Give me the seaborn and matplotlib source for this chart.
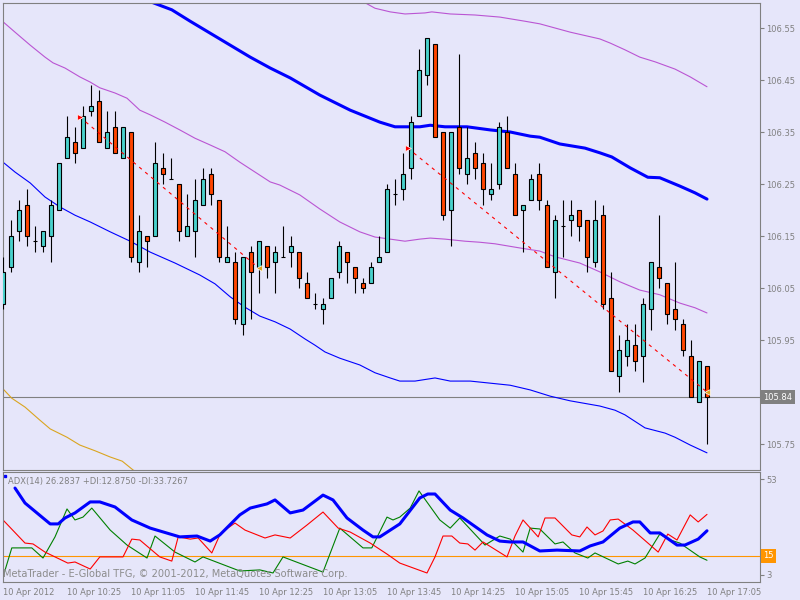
import matplotlib
matplotlib.use("Agg")
import matplotlib.pyplot as plt
import matplotlib.transforms as mtransforms
import seaborn as sns

# EURJPY M5, 10 Apr 2012, bars from 09:45 to 17:05
opens = [106.02, 106.09, 106.16, 106.21, 106.14, 106.13, 106.15, 106.20, 106.30, 106.33,
         106.32, 106.39, 106.41, 106.32, 106.36, 106.30, 106.35, 106.10, 106.15, 106.15,
         106.28, 106.26, 106.25, 106.15, 106.16, 106.21, 106.27, 106.22, 106.10, 106.10,
         105.98, 106.12, 106.09, 106.13, 106.10, 106.11, 106.12, 106.12, 106.06, 106.02,
         106.01, 106.03, 106.08, 106.12, 106.09, 106.06, 106.06, 106.10, 106.12, 106.23,
         106.24, 106.28, 106.38, 106.46, 106.52, 106.35, 106.20, 106.36, 106.27, 106.31,
         106.29, 106.23, 106.25, 106.35, 106.27, 106.20, 106.22, 106.27, 106.21, 106.08,
         106.17, 106.18, 106.20, 106.18, 106.10, 106.19, 106.03, 105.88, 105.92, 105.94,
         105.92, 106.01, 106.09, 106.06, 106.01, 105.98, 105.92, 105.83, 105.90]
highs = [106.11, 106.18, 106.22, 106.24, 106.17, 106.16, 106.22, 106.29, 106.38, 106.36,
         106.40, 106.44, 106.43, 106.39, 106.39, 106.36, 106.35, 106.19, 106.15, 106.33,
         106.31, 106.30, 106.25, 106.23, 106.26, 106.28, 106.28, 106.22, 106.17, 106.12,
         106.11, 106.13, 106.14, 106.13, 106.13, 106.17, 106.15, 106.12, 106.08, 106.04,
         106.03, 106.07, 106.14, 106.12, 106.09, 106.07, 106.10, 106.15, 106.25, 106.26,
         106.31, 106.38, 106.51, 106.53, 106.52, 106.35, 106.35, 106.50, 106.36, 106.33,
         106.31, 106.29, 106.37, 106.38, 106.29, 106.21, 106.27, 106.29, 106.22, 106.19,
         106.22, 106.22, 106.20, 106.18, 106.22, 106.21, 106.08, 105.96, 105.98, 105.98,
         106.03, 106.10, 106.19, 106.06, 106.10, 105.99, 105.95, 105.91, 105.90]
lows = [106.01, 106.08, 106.14, 106.13, 106.12, 106.12, 106.10, 106.20, 106.30, 106.29,
        106.32, 106.38, 106.33, 106.32, 106.31, 106.30, 106.10, 106.08, 106.09, 106.15,
        106.25, 106.26, 106.14, 106.15, 106.11, 106.21, 106.21, 106.10, 106.10, 105.98,
        105.96, 105.99, 106.04, 106.07, 106.04, 106.11, 106.09, 106.05, 106.03, 106.01,
        105.98, 106.03, 106.07, 106.06, 106.04, 106.04, 106.06, 106.10, 106.12, 106.21,
        106.22, 106.26, 106.38, 106.44, 106.34, 106.18, 106.13, 106.27, 106.25, 106.26,
        106.21, 106.22, 106.24, 106.28, 106.19, 106.12, 106.22, 106.20, 106.09, 106.03,
        106.11, 106.15, 106.14, 106.08, 106.09, 106.01, 105.89, 105.85, 105.90, 105.89,
        105.87, 105.97, 106.05, 105.98, 105.97, 105.92, 105.84, 105.83, 105.75]
closes = [106.08, 106.15, 106.20, 106.15, 106.14, 106.16, 106.21, 106.29, 106.34, 106.31,
          106.38, 106.40, 106.33, 106.35, 106.31, 106.36, 106.11, 106.16, 106.14, 106.29,
          106.27, 106.26, 106.16, 106.17, 106.22, 106.26, 106.23, 106.11, 106.11, 105.99,
          106.11, 106.08, 106.14, 106.09, 106.12, 106.11, 106.13, 106.07, 106.03, 106.02,
          106.02, 106.07, 106.13, 106.10, 106.07, 106.05, 106.09, 106.11, 106.24, 106.23,
          106.27, 106.37, 106.47, 106.53, 106.34, 106.19, 106.35, 106.28, 106.30, 106.28,
          106.24, 106.24, 106.36, 106.28, 106.19, 106.21, 106.26, 106.22, 106.09, 106.18,
          106.17, 106.19, 106.17, 106.11, 106.18, 106.02, 105.89, 105.93, 105.95, 105.91,
          106.02, 106.10, 106.07, 106.00, 105.99, 105.93, 105.84, 105.91, 105.84]

time_labels = ["10 Apr 2012", "10 Apr 10:25", "10 Apr 11:05", "10 Apr 11:45",
               "10 Apr 12:25", "10 Apr 13:05", "10 Apr 13:45", "10 Apr 14:25",
               "10 Apr 15:05", "10 Apr 15:45", "10 Apr 16:25", "10 Apr 17:05"]
price_ticks = [105.75, 105.85, 105.95, 106.05, 106.15, 106.25, 106.35, 106.45, 106.55]
last_price = 105.84

# moving average / envelope lines (bar index, price)
ma_x = [18, 21.1, 23.4, 25.9, 28.4, 30.9, 33.4, 35.9, 39.6, 43.4, 47.1, 49, 52.1, 53.4, 55.25,
        58, 60.9, 63.4, 65.9, 67.1, 69.6, 72.75, 74.6, 76.1, 78.4, 80.6, 82.1, 84.6, 86.5, 88]
ma_v = [106.603, 106.585, 106.563, 106.540, 106.517, 106.494, 106.473, 106.454, 106.421, 106.392,
        106.369, 106.360, 106.360, 106.363, 106.360, 106.360, 106.354, 106.350, 106.342, 106.340,
        106.327, 106.319, 106.310, 106.302, 106.281, 106.263, 106.262, 106.246, 106.233, 106.221]
up_x = [44.5, 46.5, 48.4, 50.25, 52.75, 53.6, 55.9, 59, 62.1, 65.25, 67.1, 70.9, 74.6, 75.9,
        77.75, 79.6, 81.5, 84, 85.9, 88]
up_v = [106.605, 106.588, 106.581, 106.577, 106.579, 106.581, 106.577, 106.575, 106.571, 106.563,
        106.558, 106.542, 106.529, 106.521, 106.508, 106.494, 106.485, 106.471, 106.456, 106.437]
mid_x = [0, 1.5, 3.4, 5.25, 6.25, 7.75, 9.6, 10.9, 12.1, 14, 15.5, 17.1, 18.4, 20.25, 22.1, 24,
         25.9, 27.75, 29.6, 31.5, 33.4, 34.6, 37.1, 39.6, 42.1, 44.6, 46.5, 48.4, 50.25, 52.1,
         53.4, 55.25, 57.75, 59.6, 61.5, 64.6, 67.1, 69, 72.1, 74.6, 77.1, 79.6, 82.1, 84.6, 86.5, 88]
mid_v = [106.562, 106.542, 106.517, 106.494, 106.483, 106.473, 106.456, 106.446, 106.435, 106.425,
         106.415, 106.392, 106.383, 106.369, 106.354, 106.338, 106.325, 106.312, 106.292, 106.273,
         106.254, 106.248, 106.229, 106.202, 106.177, 106.158, 106.148, 106.144, 106.140, 106.144,
         106.146, 106.144, 106.140, 106.138, 106.135, 106.127, 106.121, 106.110, 106.098, 106.081,
         106.062, 106.046, 106.037, 106.021, 106.012, 106.002]
lo_x = [0, 1.5, 3.4, 5.25, 7.1, 9, 10.9, 13.4, 15.9, 18.4, 21.5, 24.6, 26.5, 28.4, 30.25, 32.1,
        34, 35.9, 37.75, 39, 40.25, 42.1, 44.6, 46.5, 48.4, 49.6, 51.5, 54, 55.9, 58.4, 60.9,
        63.4, 65.9, 68.4, 70.9, 74.6, 76.5, 77.75, 80.25, 82.75, 84, 85.9, 88]
lo_v = [106.292, 106.273, 106.252, 106.225, 106.206, 106.190, 106.177, 106.158, 106.140, 106.119,
        106.098, 106.075, 106.058, 106.033, 106.013, 105.996, 105.985, 105.971, 105.952, 105.940,
        105.927, 105.915, 105.902, 105.887, 105.877, 105.871, 105.871, 105.877, 105.871, 105.871,
        105.867, 105.863, 105.854, 105.842, 105.833, 105.823, 105.815, 105.806, 105.781, 105.771,
        105.763, 105.748, 105.733]
gold_x = [0, 1.1, 2.75, 4.6, 5.9, 8, 9.6, 11.5, 13.4, 14.9, 16.1, 17.5]
gold_v = [105.856, 105.838, 105.821, 105.796, 105.779, 105.763, 105.748, 105.737, 105.725,
          105.717, 105.702, 105.685]

# trades: open arrow -> close triangle
trade_open_x = [9.6, 50.6]
trade_open_p = [106.379, 106.319]
trade_close_x = [32, 88]
trade_close_p = [106.088, 105.85]

# ADX(14) panel
adx_x = [1.5, 2.75, 5, 5.9, 6.9, 7.75, 9, 10.9, 12.1, 14, 16.1, 18.4, 22.1, 24.25, 25.9, 27.1,
         29.6, 30.9, 33, 34, 35.9, 37.5, 40, 41.25, 43, 45, 46.25, 47.1, 49.6, 52.1, 53.1, 54,
         55.9, 57.5, 60.5, 62.1, 63.4, 65, 67.1, 69.25, 72.1, 73.4, 75, 77.1, 78.75, 79.6, 80.9,
         82.1, 84.25, 85.25, 86.9, 88]
adx_v = [45.7, 38.9, 32.1, 29.4, 29.4, 32.1, 34.4, 39.4, 39.4, 37.1, 31.2, 27.5, 23.5, 23.9,
         21.6, 24.4, 33.5, 36.6, 38.5, 40.3, 34.4, 35.7, 42.5, 40.3, 32.1, 26.6, 23.5, 23.5,
         29.4, 41.2, 43.0, 43.0, 35.7, 32.1, 24.4, 21.6, 21.2, 21.2, 17.1, 17.5, 17.1, 19.4,
         21.2, 27.5, 30.3, 30.3, 25.3, 25.3, 19.8, 19.8, 22.5, 26.28]
pdi_x = [0, 1.1, 2.5, 3.6, 5, 6.5, 8, 9, 10, 11.1, 13.4, 15.5, 18, 19, 21.5, 24, 25, 29.6, 32.1,
         33.75, 35, 40, 42.1, 45, 46.1, 48, 48.75, 49.6, 50.9, 52, 54.6, 55.9, 57.1, 60.25, 62.1,
         63.4, 65, 65.9, 67.1, 69, 70, 71.5, 73.1, 74, 76.9, 78.1, 79, 80.25, 82.1, 83.4, 84.6,
         87.1, 88]
pdi_v = [5.3, 18.5, 18.5, 18.5, 13.9, 23.5, 36.2, 31.2, 32.5, 36.6, 26.6, 19.8, 13.9, 23.9,
         16.6, 12.1, 14.4, 8.0, 8.5, 7.1, 14.4, 7.5, 27.5, 18.5, 18.5, 32.5, 31.2, 32.5, 36.6,
         44.4, 31.2, 27.5, 32.1, 19.8, 23.9, 22.5, 16.6, 27.5, 27.1, 20.3, 21.2, 16.2, 13.9,
         16.2, 11.2, 12.5, 11.2, 13.9, 24.8, 22.1, 20.7, 14.4, 12.88]
mdi_x = [0, 2.75, 3.75, 5.25, 8.1, 9, 10.9, 12.1, 15, 16.1, 17.1, 19.6, 21.1, 21.9, 23.4, 24.4,
         26.1, 27.1, 28.1, 29, 30.25, 32.75, 34, 35.9, 38, 40, 41.9, 43.4, 45.9, 48, 49.6, 53,
         54, 55, 56.1, 57.1, 58.1, 59, 60, 63, 64, 65, 66.9, 67.75, 69, 71.1, 72.1, 73, 74, 75,
         75.9, 76.9, 78.75, 80.9, 81.9, 83.1, 84.25, 85.9, 86.9, 88]
mdi_v = [31.2, 20.7, 20.3, 16.6, 11.6, 12.1, 8.9, 14.4, 14.4, 22.5, 22.1, 14.4, 12.5, 23.5,
         22.5, 23.0, 16.2, 24.4, 27.5, 29.8, 26.6, 23.0, 24.4, 23.0, 28.9, 34.8, 27.5, 25.7,
         20.7, 15.7, 11.6, 7.1, 14.4, 23.9, 23.9, 20.7, 20.3, 17.5, 21.2, 14.4, 23.9, 31.2,
         23.5, 32.1, 32.1, 24.4, 23.5, 28.0, 24.4, 26.2, 31.2, 31.6, 26.6, 19.8, 16.6, 24.8,
         22.1, 33.5, 30.3, 33.73]
adx_level = 15
adx_header = "ADX(14) 26.2837 +DI:12.8750 -DI:33.7267"
watermark = "MetaTrader - E-Global TFG, \u00a9 2001-2012, MetaQuotes Software Corp."

BG = "#E6E6FA"
GRAY = "#808080"
BULL = "#48D1CC"
BEAR = "#FF4500"

sns.set_style("white", {"axes.facecolor": BG, "figure.facecolor": BG,
                        "axes.edgecolor": GRAY})
plt.rcParams["font.family"] = ["DejaVu Sans"]

fig = plt.figure(figsize=(8, 6), dpi=100, facecolor=BG)
ax = fig.add_axes([3 / 800, 1 - 470 / 600, 757 / 800, 467 / 600])
ax2 = fig.add_axes([3 / 800, 1 - 582 / 600, 757 / 800, 110 / 600])

# ---- price panel
n = len(opens)
idx = list(range(n))
ax.vlines(idx, lows, highs, color="black", lw=0.8, zorder=3)
body_bot = [min(o, c) for o, c in zip(opens, closes)]
body_h = [abs(c - o) for o, c in zip(opens, closes)]
colors = [BULL if c > o else BEAR for o, c in zip(opens, closes)]
ax.bar(idx, body_h, bottom=body_bot, width=0.62, color=colors,
       edgecolor="black", linewidth=0.8, zorder=4)

sns.lineplot(x=ma_x, y=ma_v, ax=ax, color="#0000FF", lw=2.2, estimator=None, sort=False, zorder=2)
sns.lineplot(x=up_x, y=up_v, ax=ax, color="#BA55D3", lw=0.8, estimator=None, sort=False, zorder=2)
sns.lineplot(x=mid_x, y=mid_v, ax=ax, color="#BA55D3", lw=0.8, estimator=None, sort=False, zorder=2)
sns.lineplot(x=lo_x, y=lo_v, ax=ax, color="#0000FF", lw=0.8, estimator=None, sort=False, zorder=2)
sns.lineplot(x=gold_x, y=gold_v, ax=ax, color="#DAA520", lw=0.8, estimator=None, sort=False, zorder=2)

for x0, p0, x1, p1 in zip(trade_open_x, trade_open_p, trade_close_x, trade_close_p):
    ax.plot([x0, x1], [p0, p1], color="red", lw=0.8, ls=(0, (3, 4)), zorder=5)
    ax.plot(x0, p0, marker=">", ms=5, color="red", mec="white", mew=0.5, zorder=6)
    ax.plot(x1, p1, marker="<", ms=5, color="#DAA520", mec="white", mew=0.5, zorder=6)

ax.axhline(last_price, color=GRAY, lw=0.8, zorder=1)

ax.set_xlim(0, 757 / 8)
ax.set_ylim(106.55 - 442 / 520, 106.55 + 25 / 520)
ax.set_xticks([])
ax.set_yticks(price_ticks)
# the 105.85 label sits under the last-price box, so only its tick mark shows
ax.set_yticklabels(["" if abs(p - last_price) < 0.02 else f"{p:.2f}" for p in price_ticks])
ax.yaxis.tick_right()
ax.tick_params(axis="y", direction="out", length=3, width=0.8, color=GRAY,
               labelcolor=GRAY, labelsize=6, pad=1.5)
trans = mtransforms.blended_transform_factory(ax.transAxes, ax.transData)
ax.text(1.004, last_price, f"{last_price:.2f}", transform=trans, ha="left", va="center",
        fontsize=6, color="white", zorder=10,
        bbox=dict(boxstyle="square,pad=0.3", fc=GRAY, ec="none"))
ax.set_xlabel("")
ax.set_ylabel("")

# ---- ADX panel
sns.lineplot(x=pdi_x, y=pdi_v, ax=ax2, color="#008000", lw=0.8, estimator=None, sort=False)
sns.lineplot(x=mdi_x, y=mdi_v, ax=ax2, color="#FF0000", lw=0.8, estimator=None, sort=False)
sns.lineplot(x=adx_x, y=adx_v, ax=ax2, color="#0000FF", lw=2.2, estimator=None, sort=False)
ax2.axhline(adx_level, color="#FF9500", lw=0.8, zorder=1)

ax2.set_xlim(0, 757 / 8)
ax2.set_ylim(3, 53)
ax2.set_xticks(list(range(0, 8 * len(time_labels), 8)))
ax2.set_xticklabels(time_labels, ha="left")
ax2.tick_params(axis="x", direction="out", length=3, width=0.8, color=GRAY,
                labelcolor=GRAY, labelsize=6, pad=1)
ax2.yaxis.tick_right()
ax2.set_yticks([49.8, 6.2])
ax2.set_yticklabels(["53", "3"])
ax2.tick_params(axis="y", direction="out", length=3, width=0.8, color=GRAY,
                labelcolor=GRAY, labelsize=6, pad=1.5)
trans2 = mtransforms.blended_transform_factory(ax2.transAxes, ax2.transData)
ax2.text(1.004, adx_level, str(adx_level), transform=trans2, ha="left", va="center",
         fontsize=6, color="white", zorder=10,
         bbox=dict(boxstyle="square,pad=0.3", fc="#FF9500", ec="none"))
ax2.text(0.007, 0.91, adx_header, transform=ax2.transAxes, fontsize=6, color=GRAY,
         ha="left", va="center")
ax2.plot([0.002], [0.96], marker="s", ms=2, color="#0000FF", transform=ax2.transAxes,
         clip_on=False)
ax2.text(0.0, 0.075, watermark, transform=ax2.transAxes, fontsize=7.1, color="#8c8c8c",
         ha="left", va="center")
ax2.set_xlabel("")
ax2.set_ylabel("")

for a in (ax, ax2):
    for s in a.spines.values():
        s.set_color(GRAY)
        s.set_linewidth(0.8)

fig.savefig("out.png", dpi=100, facecolor=BG)
